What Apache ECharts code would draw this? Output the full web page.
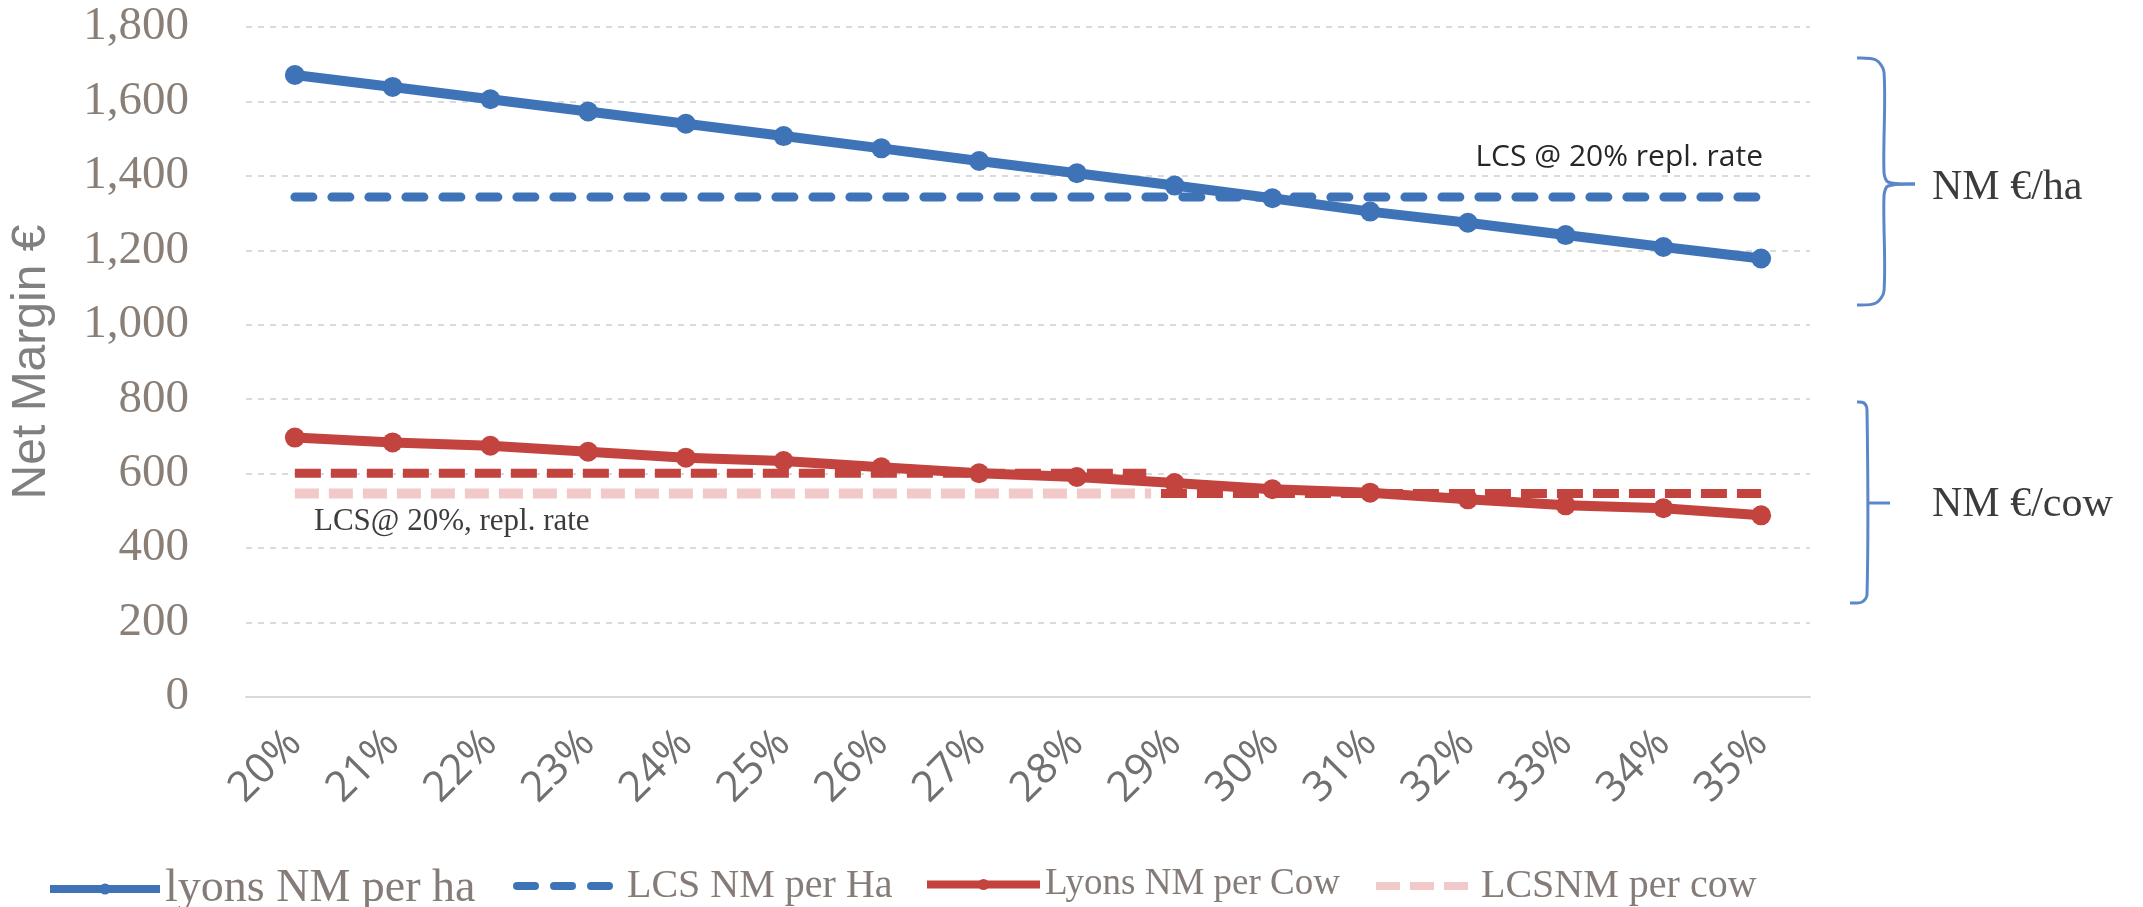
<!DOCTYPE html>
<html>
<head>
<meta charset="utf-8">
<script src="https://cdn.jsdelivr.net/npm/echarts@6/dist/echarts.min.js"></script>
<style>
  html, body { margin: 0; padding: 0; background: #fff; }
  #chart { width: 2143px; height: 907px; }
</style>
</head>
<body>
<div id="chart"></div>
<script>
// replacement rate categories
const categories = ['20%', '21%', '22%', '23%', '24%', '25%', '26%', '27%',
  '28%', '29%', '30%', '31%', '32%', '33%', '34%', '35%']
const yTicks = [0, 200, 400, 600, 800, 1000, 1200, 1400, 1600, 1800]

// net margin values
const lyonsHa = [1671, 1639, 1606, 1573, 1540, 1507, 1474, 1440,
  1407, 1374, 1340, 1304, 1274, 1241, 1209, 1178]
const lcsHa = [1343, 1343, 1343, 1343, 1343, 1343, 1343, 1343,
  1343, 1343, 1343, 1343, 1343, 1343, 1343, 1343]
const lyonsCow = [697, 684, 675, 659, 643, 634, 617, 601,
  591, 575, 558, 549, 531, 515, 507, 488]
// LCS per cow pieces, [category index, value]
const lcsCowPale = [[0, 547], [8.76, 547]]
const lcsCowDark = [[8.86, 547], [15, 547]]
const lcsCowUpper = [[0, 601], [8.71, 601]]

const blue = '#3f73b8'
const red = '#c3433f'
const serif = 'Liberation Serif'
const braceStyle = { stroke: '#5b87c9', lineWidth: 3, fill: null }

const chart = echarts.init(document.getElementById('chart'))

function legendAt (name, left, width, size, noSymbol) {
  return {
    data: [name],
    left: left,
    top: 861,
    itemWidth: width,
    itemHeight: 14,
    lineStyle: { width: 8 },
    itemStyle: noSymbol ? { opacity: 0 } : {},
    textStyle: { fontFamily: serif, fontSize: size, color: '#857c78' }
  }
}

function brace (points) {
  return { type: 'polyline', shape: { points: points, smooth: 0.3 }, style: braceStyle }
}

const option = {
  animation: false,
  grid: { left: 227, right: 333, top: 27, bottom: 210, containLabel: false },
  legend: [
    legendAt('lyons NM per ha', 41, 110, 46, false),
    legendAt('LCS NM per Ha', 508, 105, 40, true),
    legendAt('Lyons NM per Cow', 918, 113, 37, false),
    legendAt('LCSNM per cow', 1367, 100, 40, true)
  ],
  xAxis: [
    {
      type: 'category',
      data: categories,
      boundaryGap: true,
      axisLine: { lineStyle: { color: '#d9d9d9', width: 2 } },
      axisTick: { show: false },
      axisLabel: {
        rotate: 45,
        margin: 40,
        fontFamily: 'Open Sans',
        fontSize: 42,
        color: '#707070'
      }
    },
    {
      type: 'value',
      min: -0.5,
      max: 15.5,
      show: false
    }
  ],
  yAxis: {
    type: 'value',
    min: 0,
    max: 1800,
    interval: 200,
    name: 'Net Margin €',
    nameLocation: 'middle',
    nameRotate: 90,
    nameGap: 190,
    nameTextStyle: { fontFamily: 'Liberation Sans', fontSize: 48, color: '#808080' },
    axisLine: { show: false },
    axisTick: { show: false },
    axisLabel: {
      margin: 57,
      fontFamily: serif,
      fontSize: 47,
      color: '#8a7f77',
      formatter: function (v) {
        return yTicks.indexOf(v) >= 0 ? v.toLocaleString('en-US') : ''
      }
    },
    splitLine: { lineStyle: { color: '#dadada', width: 2, type: [6, 6] } }
  },
  series: [
    {
      name: 'LCS NM per Ha',
      type: 'line',
      data: lcsHa,
      symbol: 'none',
      lineStyle: { color: blue, width: 9, type: [18, 19], cap: 'round' },
      itemStyle: { color: blue },
      z: 2
    },
    {
      name: 'LCSNM per cow',
      type: 'line',
      xAxisIndex: 1,
      data: lcsCowPale,
      symbol: 'none',
      lineStyle: { color: '#f1c9c8', width: 10, type: [24, 10] },
      itemStyle: { color: '#f1c9c8' },
      z: 2
    },
    {
      name: 'lcs cow dark',
      type: 'line',
      xAxisIndex: 1,
      data: lcsCowDark,
      symbol: 'none',
      lineStyle: { color: red, width: 9, type: [26, 10] },
      z: 2
    },
    {
      name: 'lcs cow upper',
      type: 'line',
      xAxisIndex: 1,
      data: lcsCowUpper,
      symbol: 'none',
      lineStyle: { color: red, width: 9, type: [26, 10] },
      z: 2
    },
    {
      name: 'lyons NM per ha',
      type: 'line',
      data: lyonsHa,
      symbol: 'circle',
      symbolSize: 20,
      lineStyle: { color: blue, width: 10 },
      itemStyle: { color: blue },
      z: 3
    },
    {
      name: 'Lyons NM per Cow',
      type: 'line',
      data: lyonsCow,
      symbol: 'circle',
      symbolSize: 20,
      lineStyle: { color: red, width: 10 },
      itemStyle: { color: red },
      z: 3
    }
  ],
  graphic: [
    {
      type: 'text',
      x: 1763,
      y: 157,
      style: {
        text: 'LCS @ 20% repl. rate', font: '30px "Open Sans"', fill: '#262626',
        align: 'right', verticalAlign: 'middle'
      }
    },
    {
      type: 'text',
      x: 314,
      y: 522,
      style: {
        text: 'LCS@ 20%, repl. rate', font: '31px "Liberation Serif"', fill: '#3c3c3c',
        verticalAlign: 'middle'
      }
    },
    brace([[1857, 58], [1876, 60], [1884, 72], [1884, 172], [1888, 182], [1915, 184]]),
    brace([[1915, 184], [1888, 186], [1884, 196], [1884, 291], [1876, 303], [1857, 305]]),
    brace([[1857, 402], [1864, 403], [1867, 410], [1867, 595], [1862, 602], [1850, 603]]),
    { type: 'line', shape: { x1: 1867, y1: 503, x2: 1890, y2: 503 }, style: braceStyle },
    {
      type: 'text',
      x: 1932,
      y: 188,
      style: {
        text: 'NM €/ha', font: '42px "Liberation Serif"', fill: '#3c3c3c',
        verticalAlign: 'middle'
      }
    },
    {
      type: 'text',
      x: 1932,
      y: 505,
      style: {
        text: 'NM €/cow', font: '42px "Liberation Serif"', fill: '#3c3c3c',
        verticalAlign: 'middle'
      }
    }
  ]
}

chart.setOption(option)
</script>
</body>
</html>
